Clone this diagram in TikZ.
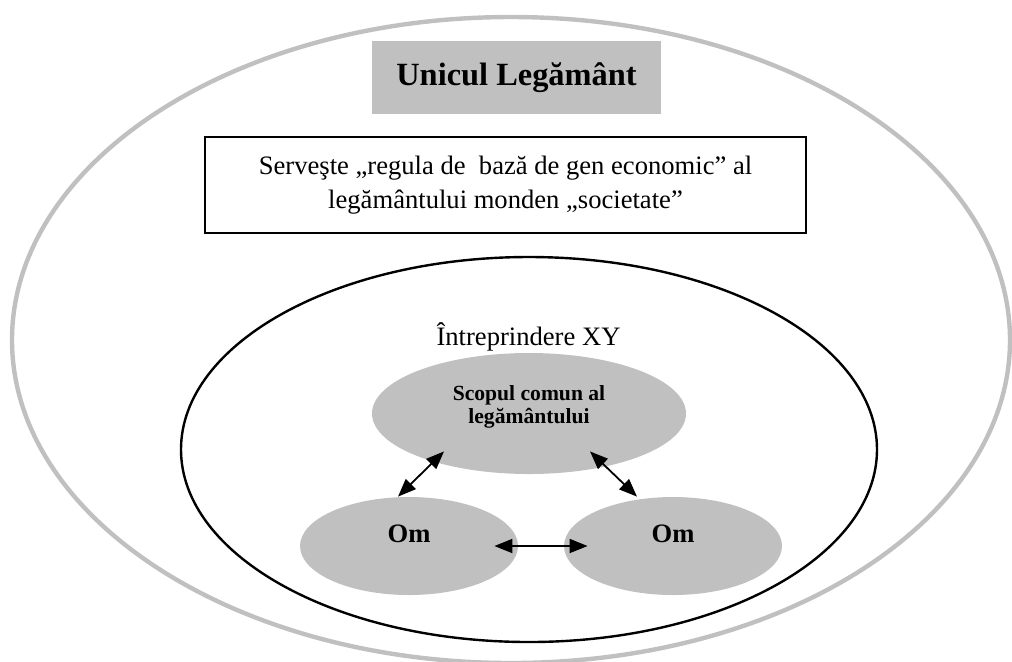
\documentclass[tikz,border=0pt]{standalone}
\usepackage{fontspec}
\setmainfont{Liberation Serif}
\usetikzlibrary{shapes,arrows.meta,positioning}
\definecolor{boxgray}{HTML}{C0C0C0}
\tikzset{
    outerring/.style={draw=boxgray, line width=2.2pt, ellipse, inner sep=0pt,
        minimum width=499pt, minimum height=323pt},
    firmring/.style={draw=black, line width=1.2pt, ellipse, inner sep=0pt,
        minimum width=348pt, minimum height=192.5pt},
    titlebox/.style={fill=boxgray, inner sep=0pt, minimum width=144.5pt,
        minimum height=36.5pt, font=\fontsize{16.2}{19}\selectfont\bfseries},
    rulebox/.style={draw=black, line width=1pt, inner sep=0pt, align=center,
        minimum width=300.5pt, minimum height=48pt,
        font=\fontsize{13.3}{17}\selectfont},
    goal/.style={fill=boxgray, ellipse, inner sep=0pt,
        minimum width=157pt, minimum height=60.5pt},
    goaltext/.style={align=center, font=\fontsize{10.8}{11.5}\selectfont\bfseries},
    person/.style={fill=boxgray, ellipse, inner sep=0pt,
        minimum width=109pt, minimum height=49pt},
    omtext/.style={font=\fontsize{13.3}{16}\selectfont\bfseries},
    link/.style={{Triangle[length=9pt,width=7pt]}-{Triangle[length=9pt,width=7pt]},
        line width=0.9pt},
}

\begin{document}
\begin{tikzpicture}[x=0.5pt, y=-0.5pt]
 \useasboundingbox (0,0) rectangle (1012,661);
 % the one covenant
 \node[outerring] (legamant) at (511,340) {};
 \node[titlebox] (titlu) at (516.5,77.5) {Unicul Legământ};
 \node[rulebox] (regula) at (505.5,185)
    {Serveşte „regula de\ \ bază de gen economic” al\\legământului monden „societate”};
 % the enterprise
 \node[firmring] (firma) at (529,449.5) {};
 \node[anchor=base, font=\fontsize{13.3}{16}\selectfont] (nume) at (528.5,345) {Întreprindere XY};
 \node[goal, label={[goaltext,yshift=3.5pt]center:{Scopul comun al\\legământului}}] (scopul) at (529,413.5) {};
 \node[person, label={[omtext,yshift=6pt]center:Om}] (omA) at (409,546) {};
 \node[person, label={[omtext,yshift=6pt]center:Om}] (omB) at (673,546) {};
 % links
 \draw[link] ([xshift=-5.5pt]omA.north) -- ([xshift=-42.5pt,yshift=11.5pt]scopul.south);
 \draw[link] ([xshift=30.5pt,yshift=11.5pt]scopul.south) -- ([xshift=-18pt]omB.north);
 \draw[link] ([xshift=-12pt]omA.east) -- ([xshift=12pt]omB.west);
\end{tikzpicture}
\end{document}
